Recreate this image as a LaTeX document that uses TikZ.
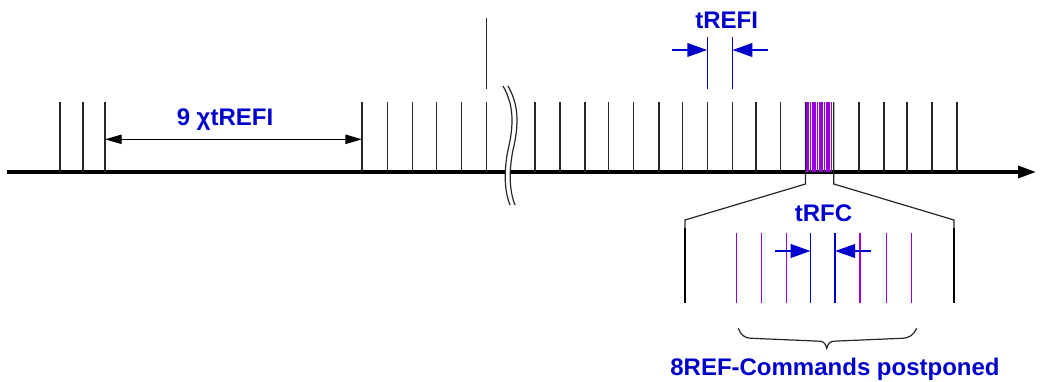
\documentclass[tikz,border=0pt]{standalone}
\usepackage{fontspec}
\setmainfont{Liberation Sans}
\usetikzlibrary{arrows.meta}
\definecolor{tblue}{RGB}{0,0,204}
\definecolor{tpurp}{RGB}{153,0,220}
\begin{document}
\begin{tikzpicture}[x=0.75pt,y=-0.75pt,
  tick/.style={line width=0.9pt, black!85},
  thin/.style={line width=0.9pt, black!85},
  heavy/.style={line width=2pt, black},
  purp/.style={line width=0.9pt, tpurp},
  bluel/.style={line width=1pt, tblue},
  bluearr/.style={line width=2pt, tblue, -{Triangle[length=15pt,width=10pt]}},
  lbl/.style={font=\bfseries\fontsize{18}{21}\selectfont, text=tblue, anchor=base, inner sep=0pt}]
\useasboundingbox (0,0) rectangle (1043,382);
% axis
\coordinate (a0) at (7,172);
\coordinate (a1) at (1036,172);
\draw[line width=2.4pt, -{Triangle[length=13.5pt,width=9pt]}] (a0) -- (a1);
% ticks
\foreach \x in {60,83,105,362,387.7,412.7,436.7,461.7,486.7,535,560,585,608.7,633.7,659,682.7,707.3,732.3,756,780.7,859,884,907,932,957}
  \draw[tick] (\x,102) -- (\x,172);
\draw[tick] (486.7,18) -- (486.7,89);
% purple block
\foreach \x in {807,808.75,...,833}
  \draw[purp] (\x,102) -- (\x,172);
\draw[tick] (805.5,102) -- (805.5,184) -- (685,220) -- (685,228);
\draw[tick] (833.8,102) -- (833.8,184) -- (954,220) -- (954,228);
\draw[heavy] (685,228) -- (685,303);
\draw[heavy] (954,228) -- (954,303);
% break
\draw[white, line width=3.2pt] (505.5,86) .. controls (516.5,105) and (516.5,125) .. (510.5,150) .. controls (506.5,170) and (506.5,190) .. (512.5,205);
\draw[thin] (503,86) .. controls (514,105) and (514,125) .. (508,150) .. controls (504,170) and (504,190) .. (510,205);
\draw[thin] (508,86) .. controls (519,105) and (519,125) .. (513,150) .. controls (509,170) and (509,190) .. (515,205);
% 9 x tREFI
\coordinate (n1) at (105,139.3);
\coordinate (n2) at (362,139.3);
\draw[line width=0.9pt, {Triangle[length=12.5pt,width=7pt]}-{Triangle[length=12.5pt,width=7pt]}] (n1) -- (n2);
\node[lbl] (t9) at (225,125) {9 χtREFI};
% tREFI
\draw[bluel] (707.3,37) -- (707.3,89);
\draw[bluel] (732.3,37) -- (732.3,89);
\coordinate (r1) at (671.7,50);
\coordinate (r2) at (707.3,50);
\coordinate (r3) at (768,50);
\coordinate (r4) at (732.3,50);
\draw[bluearr] (r1) -- (r2);
\draw[bluearr] (r3) -- (r4);
\node[lbl] (trefi) at (726.7,28.3) {tREFI};
% expanded
\foreach \x in {736.7,761.7,786.7,860,886.7,911.7}
  \draw[purp] (\x,233) -- (\x,303);
\draw[bluel] (810.7,233) -- (810.7,303);
\draw[bluel] (835,233) -- (835,303);
\coordinate (f1) at (775,251);
\coordinate (f2) at (810.7,251);
\coordinate (f3) at (870.7,251);
\coordinate (f4) at (835,251);
\draw[bluearr] (f1) -- (f2);
\draw[bluearr] (f3) -- (f4);
\node[lbl] (trfc) at (823.5,221.7) {tRFC};
% brace
\draw[thin] (738.3,328.3) .. controls (741,335) and (744,338) .. (752,338.3) -- (820,341.2) .. controls (824,341.5) and (825.5,344) .. (826.7,348.3) .. controls (828,344) and (829.5,341.5) .. (833.5,341.2) -- (902,338.3) .. controls (910,338) and (913,335) .. (916.7,328.3);
\node[lbl] (post) at (835,375) {8REF-Commands postponed};
\end{tikzpicture}
\end{document}
